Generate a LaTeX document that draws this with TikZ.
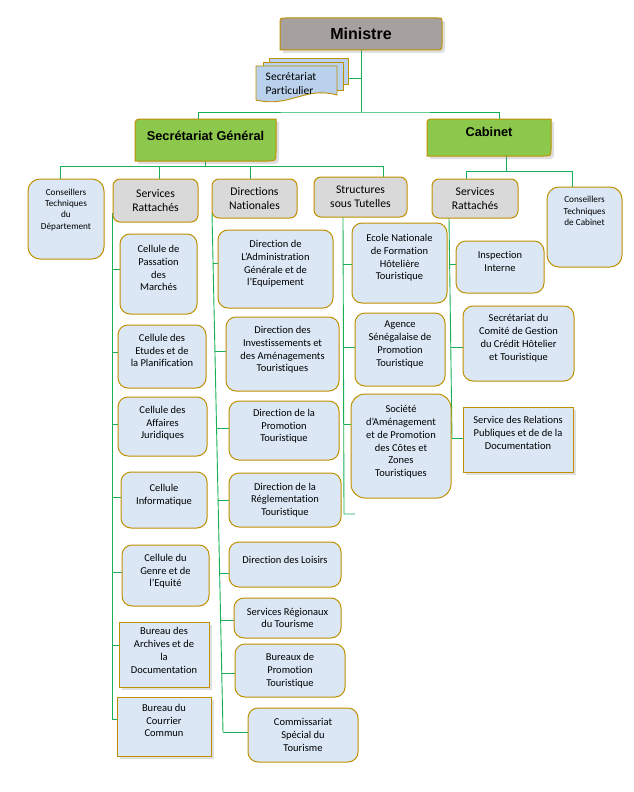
\documentclass[tikz,border=0pt]{standalone}
\usepackage{fontspec}
\setmainfont{Carlito}[Ligatures={NoCommon}]
\newfontfamily\titlefont{Liberation Sans}
\usetikzlibrary{shadows,calc,backgrounds}
\definecolor{gold}{HTML}{BF9000}
\definecolor{lblue}{HTML}{DBE7F5}
\definecolor{spblue}{HTML}{B9D1EC}
\definecolor{lgray}{HTML}{D9D9D9}
\definecolor{mgray}{HTML}{A6A19E}
\definecolor{lgreen}{HTML}{8CC84B}
\definecolor{lnk}{HTML}{16B056}
\tikzset{
  bx/.style={draw=gold, line width=1pt, inner sep=0pt, align=center},
  bluebox/.style={bx, fill=lblue, rounded corners=10pt, font=\fontsize{10.5}{12.8}\selectfont},
  rectbox/.style={bx, fill=lblue, rounded corners=0pt, font=\fontsize{10.5}{12.8}\selectfont,
     drop shadow={opacity=0.25, shadow xshift=3pt, shadow yshift=-3pt}},
  graybox/.style={bx, fill=lgray, rounded corners=7pt, font=\fontsize{11.7}{14.3}\selectfont},
  consbox/.style={bx, fill=lblue, rounded corners=12pt, font=\fontsize{9.2}{11.3}\selectfont},
  wh/.style n args={2}{minimum width=#1pt, minimum height=#2pt},
  tshift/.style={text depth=#1pt},
  ttl/.style={draw=gold, line width=1pt, drop shadow={opacity=0.25, shadow xshift=3pt, shadow yshift=-3pt}},
  titletext/.style={inner sep=0pt, font=\titlefont\bfseries\fontsize{#1}{#1}\selectfont},
  sppage/.style={draw=gold, line width=0.9pt, fill=spblue},
  link/.style={draw=lnk, line width=0.9pt},
}
\begin{document}
\begin{tikzpicture}[x=1pt,y=-1pt]
\useasboundingbox (0,0) rectangle (633,792);

% title shapes
\draw[ttl, fill=mgray] (280,50) -- (280,24) .. controls (280,18) .. (286,18) -- (438,18) .. controls (442,18) .. (442,22) -- (442,43) .. controls (442,50) .. (435,50) -- cycle;
\draw[ttl, fill=lgreen] (135,161) -- (135,128) .. controls (135,119) .. (144,119) -- (276,119) -- (276,152) .. controls (276,161) .. (267,161) -- cycle;
\draw[ttl, fill=lgreen] (427,156) -- (427,127) .. controls (427,119) .. (435,119) -- (551,119) -- (551,148) .. controls (551,156) .. (543,156) -- cycle;
\node[titletext=16, wh={162}{32}] (min) at (361,34) {Ministre};
\node[titletext=12.8, wh={141}{42}, tshift=8] (sg) at (205.5,140) {Secrétariat Général};
\node[titletext=12.8, wh={124}{37}, tshift=11] (cab) at (489,137.5) {Cabinet};

% Secretariat particulier (multi-document)
\draw[sppage] (269,58) rectangle (348,84);
\draw[sppage] (263,62) rectangle (343,90);
\draw[sppage] (256,66) -- (337,66) -- (337,95) .. controls (305,86) and (290,108) .. (256,100) -- cycle;
\node[inner sep=0pt, align=left, font=\fontsize{11.5}{13.5}\selectfont] (sp) at (291,83.5) {Secrétariat\\Particulier};
\coordinate (spr) at (348,78);

% second row
\node[consbox, wh={76}{80}, tshift=20] (ctd) at (66,219) {Conseillers\\Techniques\\du\\Département};
\node[graybox, wh={85}{43}] (srsg) at (155.5,200.5) {Services\\Rattachés};
\node[graybox, wh={85}{39}] (dn) at (254.5,198.5) {Directions\\Nationales};
\node[graybox, wh={93}{40}] (sst) at (360.5,197) {Structures\\sous Tutelles};
\node[graybox, wh={86}{39}] (srcab) at (475,198.5) {Services\\Rattachés};
\node[consbox, wh={75}{80}, tshift=32] (ctc) at (584.5,227) {Conseillers\\Techniques\\de Cabinet};

% SG services rattaches
\node[bluebox, wh={77}{80}, tshift=12] (c1) at (158.5,274) {Cellule de\\Passation\\des\\Marchés};
\node[bluebox, wh={88}{63}, tshift=12] (c2) at (162,356.5) {Cellule des\\Etudes et de\\la Planification};
\node[bluebox, wh={89}{59}, tshift=8] (c3) at (162.5,426.5) {Cellule des\\Affaires\\Juridiques};
\node[bluebox, wh={86}{56}, tshift=12] (c4) at (164,500) {Cellule\\Informatique};
\node[bluebox, wh={87}{61}, tshift=10] (c5) at (165.5,575.5) {Cellule du\\Genre et de\\l’Equité};
\node[rectbox, wh={90}{65}, tshift=8] (b1) at (164,654.5) {Bureau des\\Archives et de\\la\\Documentation};
\node[rectbox, wh={94}{59}, tshift=12] (b2) at (164,726.5) {Bureau du\\Courrier\\Commun};

% Directions nationales
\node[bluebox, wh={115}{78}, tshift=12] (d1) at (275.5,269) {Direction de\\L’Administration\\Générale et de\\l’Equipement};
\node[bluebox, wh={113}{74}, tshift=10] (d2) at (282.5,354) {Direction des\\Investissements et\\des Aménagements\\Touristiques};
\node[bluebox, wh={110}{59}, tshift=10] (d3) at (284,430.5) {Direction de la\\Promotion\\Touristique};
\node[bluebox, wh={112}{54}] (d4) at (285,500) {Direction de la\\Réglementation\\Touristique};
\node[bluebox, wh={112}{45}, tshift=10] (d5) at (285,564.5) {Direction des Loisirs};
\node[bluebox, wh={107}{40}] (d6) at (287.5,618) {Services Régionaux\\du Tourisme};
\node[bluebox, wh={110}{53}] (d7) at (290,670.5) {Bureaux de\\Promotion\\Touristique};
\node[bluebox, wh={110}{54}] (d8) at (303,735) {Commissariat\\Spécial du\\Tourisme};

% Structures sous tutelles
\node[bluebox, wh={95}{80}, tshift=12] (s1) at (399.5,263) {Ecole Nationale\\de Formation\\Hôtelière\\Touristique};
\node[bluebox, wh={90}{73}, tshift=12] (s2) at (400,349.5) {Agence\\Sénégalaise de\\Promotion\\Touristique};
\node[bluebox, wh={100}{104}, tshift=10, rounded corners=14pt] (s3) at (401,446) {Société\\d’Aménagement\\et de Promotion\\des Côtes et\\Zones\\Touristiques};

% Cabinet services
\node[bluebox, wh={88}{52}, tshift=12] (ii) at (500,267) {Inspection\\Interne};
\node[bluebox, wh={111}{75}, tshift=12] (scg) at (518.5,343.5) {Secrétariat du\\Comité de Gestion\\du Crédit Hôtelier\\et Touristique};
\node[rectbox, wh={110}{65}, tshift=13] (srp) at (518,439.5) {Service des Relations\\Publiques et de de la\\Documentation};

\begin{scope}[on background layer]
\fill[white] (0,0) rectangle (633,792);
% top connectors
\coordinate (j0) at (361,112);
\coordinate (jsp) at (361,78);
\draw[link] (min.south) -- (j0);
\draw[link] (spr) -- (jsp);
\draw[link] ([xshift=-7.5pt]sg.north) |- (j0) -| ([xshift=10pt]cab.north);
% SG children
\coordinate (jsg) at (205.5,166);
\coordinate (k1) at (60,166);
\coordinate (k2) at (159,166);
\coordinate (k3) at (250,166);
\coordinate (k4) at (383,166);
\draw[link] (sg.south) -- (jsg);
\draw[link] (k1) -- (k4);
\draw[link] (k1) -- (k1 |- ctd.north);
\draw[link] (k2) -- (k2 |- srsg.north);
\draw[link] (k3) -- (k3 |- dn.north);
\draw[link] (k4) -- (k4 |- sst.north);
% Cabinet children
\coordinate (jcab) at (506,171);
\coordinate (m1) at (466,171);
\coordinate (m2) at (572,171);
\draw[link] ([xshift=17pt]cab.south) -- (jcab);
\draw[link] (m1) -- (m2);
\draw[link] (m1) -- (m1 |- srcab.north);
\draw[link] (m2) -- (m2 |- ctc.north);
% SG services trunk
\coordinate (t1a) at (112,213);
\coordinate (t1b) at (112,719);
\draw[link] (t1a) -- (t1b);
\draw[link] ([yshift=5pt]c1.west) -- ++(-8,0);
\draw[link] ([yshift=4.5pt]c2.west) -- ++(-6,0);
\draw[link] ([yshift=2.5pt]c3.west) -- ++(-6,0);
\draw[link] ([yshift=3pt]c4.west) -- ++(-9,0);
\draw[link] ([yshift=3.5pt]c5.west) -- ++(-10,0);
\draw[link] ([yshift=9.5pt]b1.west) -- ++(-7,0);
\draw[link] ([yshift=7.5pt]b2.west) -- ++(-5,0);
% Directions trunk
\coordinate (t2a) at (212,213);
\coordinate (t2b) at (223,732);
\draw[link] (t2a) -- (t2b);
\draw[link] ([yshift=6pt]d1.west) -- ++(-5,0);
\draw[link] ([yshift=3pt]d2.west) -- ++(-11,0);
\draw[link] ([yshift=2.5pt]d3.west) -- ++(-12.5,0);
\draw[link] (d4.west) -- ++(-11,0);
\draw[link] ([yshift=-8.5pt]d5.west) -- ++(-9.5,0);
\draw[link] ([yshift=-2pt]d6.west) -- ++(-13.4,0);
\draw[link] ([yshift=-2.5pt]d7.west) -- ++(-13.3,0);
\draw[link] ([yshift=3pt]d8.west) -- ++(-25,0);
% Structures trunk
\coordinate (t3a) at (343,217);
\coordinate (t3b) at (344,514);
\draw[link] (t3a) -- (t3b) -- ++(11,0);
\draw[link] ([yshift=-1pt]s1.west) -- ++(-9,0);
\draw[link] ([yshift=2.5pt]s2.west) -- ++(-11,0);
\draw[link] ([yshift=22pt]s3.west) -- ++(-7,0);
% Cabinet services trunk
\coordinate (t4a) at (449,218);
\coordinate (t4b) at (452,438);
\draw[link] (t4a) -- (t4b);
\draw[link] ([yshift=3pt]ii.west) -- ++(-6,0);
\draw[link] ([yshift=-3.5pt]scg.west) -- ++(-12,0);
\draw[link] ([yshift=1.5pt]srp.west) -- ++(-11,0);
\end{scope}
\end{tikzpicture}
\end{document}
